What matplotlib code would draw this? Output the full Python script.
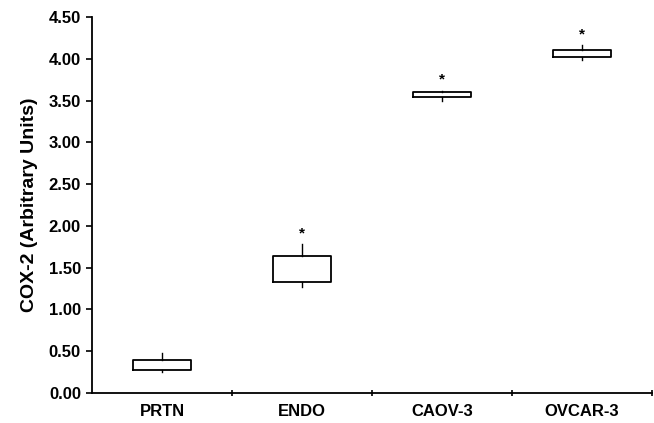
import matplotlib.pyplot as plt

plt.rcParams.update({
    "font.family": "Liberation Sans",
    "font.weight": "bold",
    "font.size": 12,
})

# Values
groups = ['PRTN', 'ENDO', 'CAOV-3', 'OVCAR-3']
whislo = [0.25, 1.27, 3.50, 3.99]
q1 = [0.28, 1.33, 3.54, 4.02]
q3 = [0.39, 1.64, 3.60, 4.10]
whishi = [0.48, 1.78, 3.62, 4.16]
significant = [False, True, True, True]

stats = []
for i, name in enumerate(groups):
    stats.append({
        'label': name,
        'whislo': whislo[i], 'q1': q1[i], 'med': q1[i],
        'q3': q3[i], 'whishi': whishi[i],
    })

fig = plt.figure(figsize=(6.54, 4.23), dpi=100)
ax = fig.add_axes([92 / 654, 30 / 423, 560 / 654, 376 / 423])

pos = list(range(1, len(groups) + 1))
ax.bxp(stats, positions=pos, widths=0.41, showfliers=False, showcaps=False,
       boxprops=dict(color='black', linewidth=1.3),
       whiskerprops=dict(color='black', linewidth=1.0),
       medianprops=dict(linewidth=0))

for p, top, sig in zip(pos, whishi, significant):
    if sig:
        ax.annotate('*', xy=(p, top), xytext=(0, 3), textcoords='offset points',
                    ha='center', va='bottom', fontsize=11, fontweight='bold')

ax.set_xlim(0.5, len(groups) + 0.5)
ax.set_ylim(0, 4.5)
ax.set_yticks([i * 0.5 for i in range(10)])
ax.set_yticklabels([f'{i * 0.5:.2f}' for i in range(10)])
ax.set_xticks(pos)
ax.set_xticklabels(groups)
ax.tick_params(axis='x', length=0, pad=8)
ax.set_xticks([p + 0.5 for p in pos], minor=True)
ax.tick_params(axis='x', which='minor', length=5, direction='inout', width=1.2)
ax.tick_params(axis='y', length=4, width=1.2, pad=4)

for s in ['top', 'right']:
    ax.spines[s].set_visible(False)
for s in ['left', 'bottom']:
    ax.spines[s].set_linewidth(1.3)

ax.set_ylabel('COX-2 (Arbitrary Units)', fontsize=14, fontweight='bold', labelpad=8)

fig.savefig('out.png', dpi=100)
